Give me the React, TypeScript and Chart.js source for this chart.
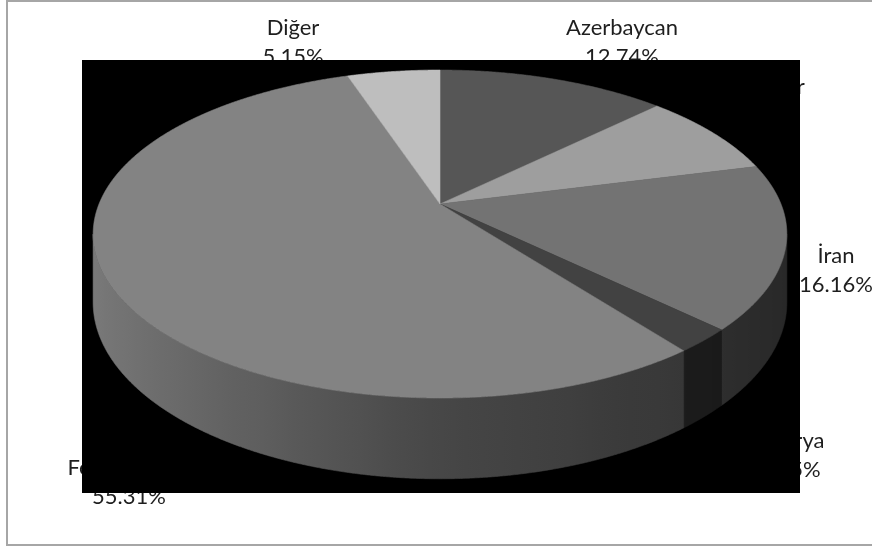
import React, { useEffect, useRef } from "react";
import { Chart, registerables } from "chart.js";

Chart.register(...registerables);

// Natural gas import shares by supplier country (%)
const categories = ["Azerbaycan", "Cezayir", "İran", "Nijerya", "Rusya Federasyonu", "Diğer"];
const shares = [12.74, 8.29, 16.16, 2.35, 55.31, 5.15];
const sliceColors = ["#565656", "#9e9e9e", "#737373", "#424242", "#838383", "#bebebe"];

// Data label placement: centre x and baseline of the first line
const labelX = [622, 769, 836, 790, 129, 293];
const labelY = [35, 94, 263, 448, 446, 35];

const W = 872;
const H = 546;

// Perspective view of the pie disc
const CX = 440;
const CY = 204;
const RX = 341;
const RY = 158.5;
const PERSP = 0.183;
const DEPTH = 66;

function project(angle: number, drop: number) {
  const u = Math.cos(angle);
  const v = -Math.sin(angle);
  const w = 1 + PERSP * v;
  return {
    x: CX + (RX * u) / w,
    y: CY - (RY * v) / w + (drop * DEPTH) / w,
  };
}

function hexToRgb(hex: string) {
  const n = parseInt(hex.slice(1), 16);
  return [(n >> 16) & 255, (n >> 8) & 255, n & 255];
}

function shade(hex: string, normalX: number) {
  const f = normalX < 0 ? 0.54 - 0.4 * normalX : 0.54 - 0.2 * normalX;
  const [r, g, b] = hexToRgb(hex);
  const c = (x: number) => Math.max(0, Math.min(255, Math.round(x * f)));
  return `rgb(${c(r)},${c(g)},${c(b)})`;
}

const pie3d = {
  id: "pie3d",
  beforeDraw(chart: any) {
    const ctx: CanvasRenderingContext2D = chart.ctx;
    ctx.save();
    ctx.fillStyle = "#ffffff";
    ctx.fillRect(0, 0, W, H);

    // outer frame
    ctx.fillStyle = "#a6a6a6";
    ctx.fillRect(6, 0, W - 6, 2);
    ctx.fillRect(6, 0, 2, H);
    ctx.fillRect(6, H - 2, W - 6, 2);

    // data labels
    ctx.fillStyle = "#1e1e1e";
    ctx.font = "22px Lato, 'Noto Sans', sans-serif";
    ctx.textAlign = "center";
    ctx.textBaseline = "alphabetic";
    categories.forEach((name, i) => {
      const lines = name.split(" ").concat([shares[i].toFixed(2) + "%"]);
      lines.forEach((line, j) => {
        ctx.fillText(line, labelX[i], labelY[i] + j * 29);
      });
    });

    // plot area
    const a = chart.chartArea;
    ctx.fillStyle = "#000000";
    ctx.fillRect(a.left, a.top, a.right - a.left, a.bottom - a.top);
    ctx.restore();
  },
  beforeDatasetsDraw(chart: any) {
    const ctx: CanvasRenderingContext2D = chart.ctx;
    const arcs = chart.getDatasetMeta(0).data;
    const lo = Math.asin(PERSP);
    const hi = Math.PI - lo;
    const step = 0.004;

    ctx.save();
    // side walls of the front half
    arcs.forEach((arc: any, i: number) => {
      const s = Math.max(arc.startAngle, lo);
      const e = Math.min(arc.endAngle, hi);
      if (e <= s) return;
      const n = Math.max(2, Math.ceil((e - s) / step));
      ctx.beginPath();
      for (let k = 0; k <= n; k++) {
        const p = project(s + ((e - s) * k) / n, 0);
        if (k === 0) ctx.moveTo(p.x, p.y);
        else ctx.lineTo(p.x, p.y);
      }
      for (let k = n; k >= 0; k--) {
        const p = project(s + ((e - s) * k) / n, 1);
        ctx.lineTo(p.x, p.y);
      }
      ctx.closePath();
      const x0 = project(e, 0).x;
      const x1 = project(s, 0).x;
      let fill: any = shade(sliceColors[i], Math.cos((s + e) / 2));
      if (x1 - x0 > 0.5) {
        const g = ctx.createLinearGradient(x0, 0, x1, 0);
        const m = 24;
        for (let k = 0; k <= m; k++) {
          const ang = e + ((s - e) * k) / m;
          const x = project(ang, 0).x;
          const t = Math.max(0, Math.min(1, (x - x0) / (x1 - x0)));
          g.addColorStop(t, shade(sliceColors[i], Math.cos(ang)));
        }
        fill = g;
      }
      ctx.fillStyle = fill;
      ctx.strokeStyle = fill;
      ctx.lineWidth = 0.6;
      ctx.fill();
      ctx.stroke();
    });

    // top faces
    arcs.forEach((arc: any, i: number) => {
      const s = arc.startAngle;
      const e = arc.endAngle;
      const n = Math.max(2, Math.ceil((e - s) / step));
      ctx.beginPath();
      ctx.moveTo(CX, CY);
      for (let k = 0; k <= n; k++) {
        const p = project(s + ((e - s) * k) / n, 0);
        ctx.lineTo(p.x, p.y);
      }
      ctx.closePath();
      ctx.fillStyle = sliceColors[i];
      ctx.strokeStyle = sliceColors[i];
      ctx.lineWidth = 0.6;
      ctx.fill();
      ctx.stroke();
    });
    ctx.restore();
    return false;
  },
};

export default function App() {
  const canvasRef = useRef<HTMLCanvasElement | null>(null);

  useEffect(() => {
    const canvas = canvasRef.current;
    if (!canvas) return;
    const chart = new Chart(canvas, {
      type: "pie",
      data: {
        labels: categories,
        datasets: [
          {
            data: shares,
            backgroundColor: sliceColors,
            borderWidth: 0,
          },
        ],
      },
      options: {
        responsive: false,
        animation: false,
        devicePixelRatio: 1,
        layout: { padding: { left: 82, top: 60, right: 72, bottom: 53 } },
        plugins: {
          legend: { display: false },
          tooltip: { enabled: false },
        },
      },
      plugins: [pie3d],
    });
    return () => chart.destroy();
  }, []);

  return (
    <canvas
      ref={canvasRef}
      width={W}
      height={H}
      style={{ position: "absolute", left: 0, top: 0, width: W, height: H }}
    />
  );
}
